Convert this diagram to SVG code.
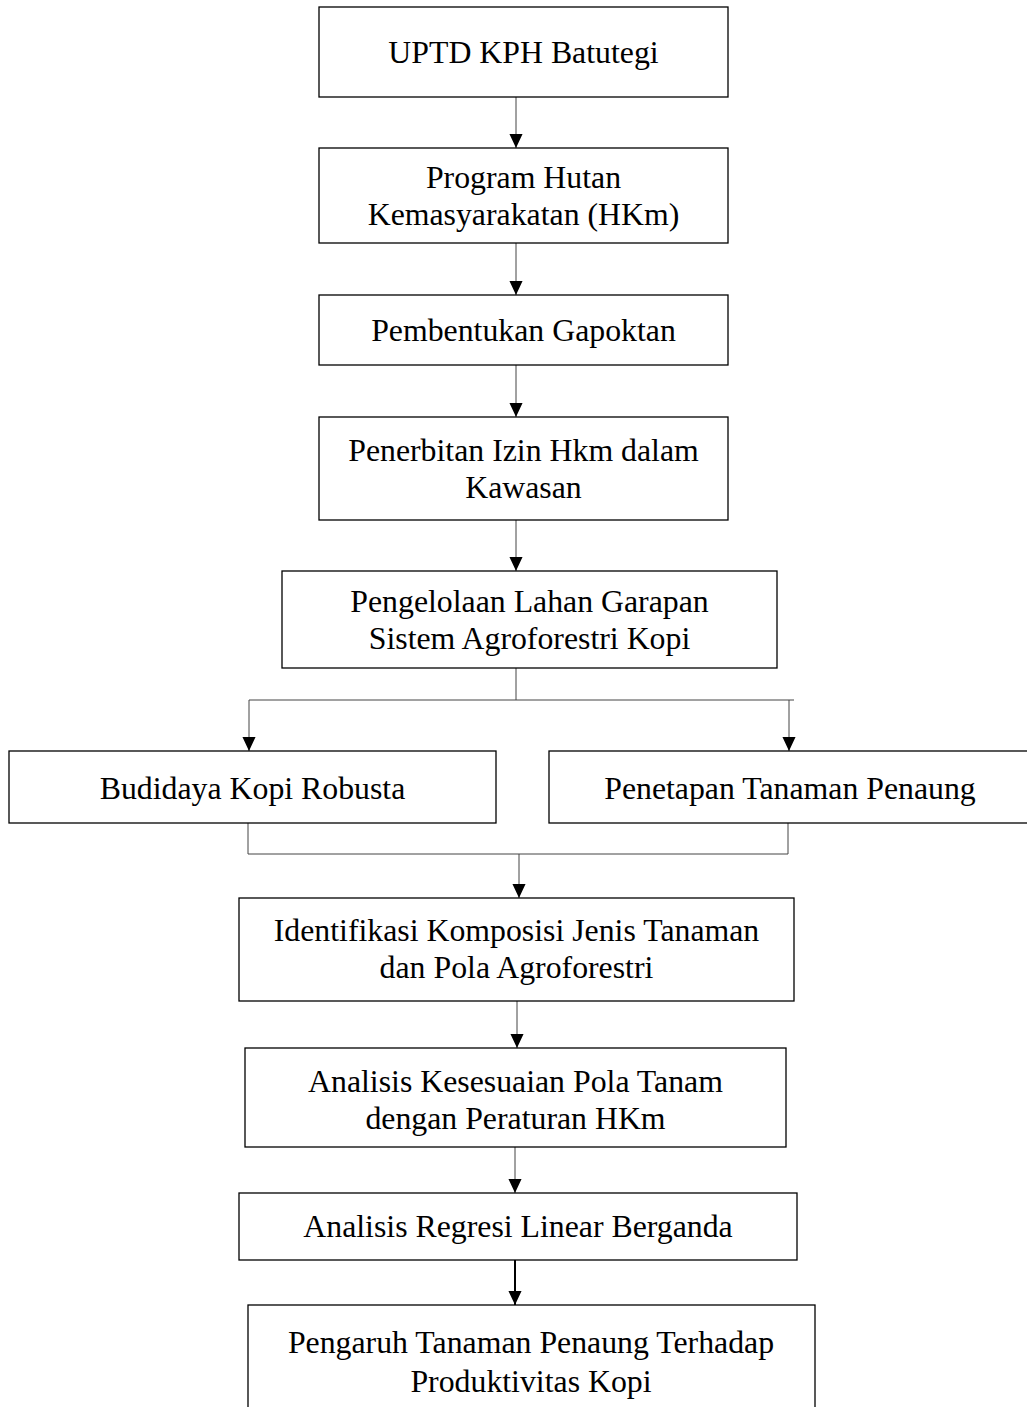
<svg xmlns="http://www.w3.org/2000/svg" width="1027" height="1407" viewBox="0 0 1027 1407">
<style>
.box{fill:#fff;stroke:#000;stroke-width:1.3}
.lbl{font-family:"Liberation Serif","Times New Roman",serif;font-size:31.8px;fill:#000;text-anchor:middle}
.con{fill:none;stroke:#444;stroke-width:1}
.conb{fill:none;stroke:#000;stroke-width:2}
</style>
<defs>
<marker id="ah" markerUnits="userSpaceOnUse" markerWidth="14" markerHeight="16" refX="15" refY="7" orient="auto" viewBox="0 0 15 14">
<path d="M0,0 L15,7 L0,14 z" fill="#000"/>
</marker>
</defs>
<rect width="1027" height="1407" fill="#fff"/>
<g id="connectors">
<line class="con" x1="516" y1="97" x2="516" y2="148" marker-end="url(#ah)"/>
<line class="con" x1="516" y1="243" x2="516" y2="295" marker-end="url(#ah)"/>
<line class="con" x1="516" y1="365" x2="516" y2="417" marker-end="url(#ah)"/>
<line class="con" x1="516" y1="520" x2="516" y2="571" marker-end="url(#ah)"/>
<polyline class="con" points="516,668 516,700"/>
<polyline class="con" points="249,700 794,700"/>
<line class="con" x1="249" y1="700" x2="249" y2="751" marker-end="url(#ah)"/>
<line class="con" x1="789" y1="700" x2="789" y2="751" marker-end="url(#ah)"/>
<polyline class="con" points="248,823 248,854 788,854 788,823"/>
<line class="con" x1="519" y1="854" x2="519" y2="898" marker-end="url(#ah)"/>
<line class="con" x1="517" y1="1001" x2="517" y2="1048" marker-end="url(#ah)"/>
<line class="con" x1="515" y1="1147" x2="515" y2="1193" marker-end="url(#ah)"/>
<line class="conb" x1="515" y1="1260" x2="515" y2="1305" marker-end="url(#ah)"/>
</g>
<g id="n1"><rect class="box" x="319" y="7" width="409" height="90"/><text class="lbl" x="523.5" y="63">UPTD KPH Batutegi</text></g>
<g id="n2"><rect class="box" x="319" y="148" width="409" height="95"/><text class="lbl" x="523.5" y="188">Program Hutan</text><text class="lbl" x="523.5" y="225">Kemasyarakatan (HKm)</text></g>
<g id="n3"><rect class="box" x="319" y="295" width="409" height="70"/><text class="lbl" x="523.5" y="341">Pembentukan Gapoktan</text></g>
<g id="n4"><rect class="box" x="319" y="417" width="409" height="103"/><text class="lbl" x="523.5" y="461">Penerbitan Izin Hkm dalam</text><text class="lbl" x="523.5" y="498">Kawasan</text></g>
<g id="n5"><rect class="box" x="282" y="571" width="495" height="97"/><text class="lbl" x="529.5" y="612">Pengelolaan Lahan Garapan</text><text class="lbl" x="529.5" y="649">Sistem Agroforestri Kopi</text></g>
<g id="n6"><rect class="box" x="9" y="751" width="487" height="72"/><text class="lbl" x="252.5" y="799">Budidaya Kopi Robusta</text></g>
<g id="n7"><rect class="box" x="549" y="751" width="482" height="72"/><text class="lbl" x="790" y="799">Penetapan Tanaman Penaung</text></g>
<g id="n8"><rect class="box" x="239" y="898" width="555" height="103"/><text class="lbl" x="516.5" y="941">Identifikasi Komposisi Jenis Tanaman</text><text class="lbl" x="516.5" y="978">dan Pola Agroforestri</text></g>
<g id="n9"><rect class="box" x="245" y="1048" width="541" height="99"/><text class="lbl" x="515.5" y="1092">Analisis Kesesuaian Pola Tanam</text><text class="lbl" x="515.5" y="1129">dengan Peraturan HKm</text></g>
<g id="n10"><rect class="box" x="239" y="1193" width="558" height="67"/><text class="lbl" x="518" y="1237">Analisis Regresi Linear Berganda</text></g>
<g id="n11"><rect class="box" x="248" y="1305" width="567" height="120"/><text class="lbl" x="531" y="1353">Pengaruh Tanaman Penaung Terhadap</text><text class="lbl" x="531" y="1392">Produktivitas Kopi</text></g>
</svg>
